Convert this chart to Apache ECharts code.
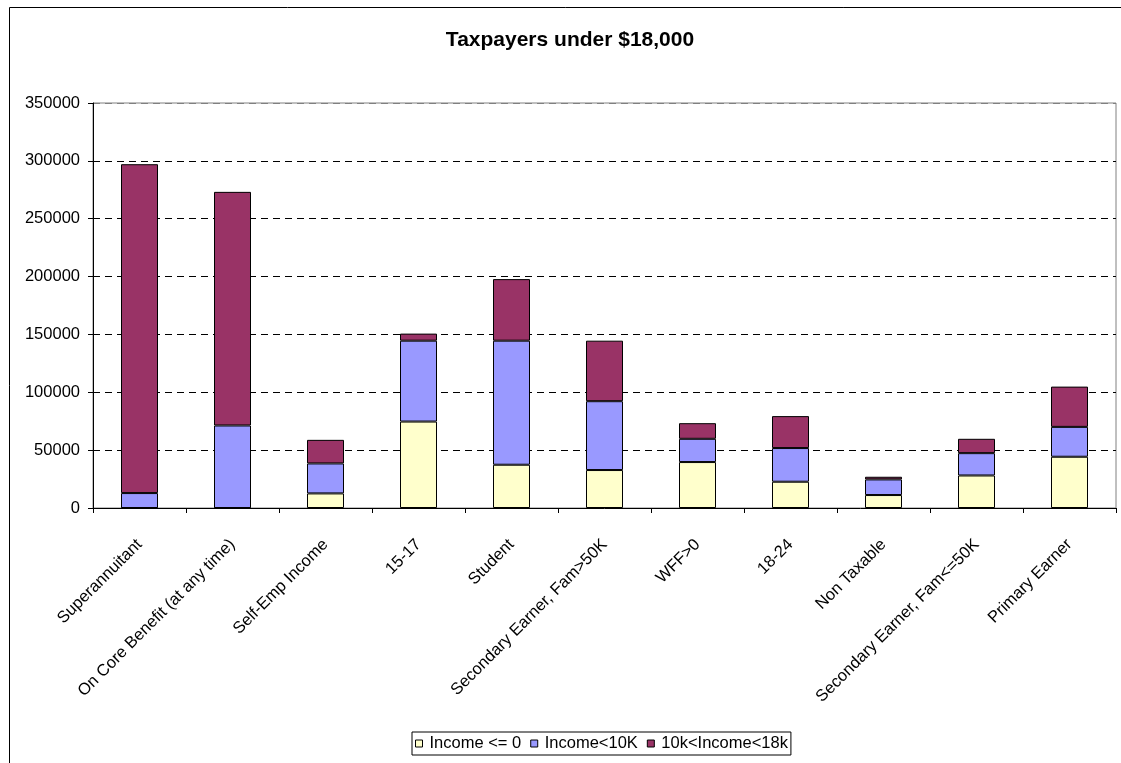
<!DOCTYPE html>
<html>
<head>
<meta charset="utf-8">
<title>Taxpayers under $18,000</title>
<script src="https://cdn.jsdelivr.net/npm/echarts@6/dist/echarts.min.js"></script>
<style>
  html, body { margin: 0; padding: 0; background: #fff; }
  #chart { width: 1121px; height: 763px; }
</style>
</head>
<body>
<div id="chart"></div>
<script>
// Taxpayer groups along the category axis
const categories = [
  'Superannuitant',
  'On Core Benefit (at any time)',
  'Self-Emp Income',
  '15-17',
  'Student',
  'Secondary Earner, Fam>50K',
  'WFF>0',
  '18-24',
  'Non Taxable',
  'Secondary Earner, Fam<=50K',
  'Primary Earner'
];

// Number of taxpayers in each income band (stacked)
const incomeNil      = [0, 0, 12600, 74700, 37400, 32800, 39700, 22700, 11200, 28100, 44300];
const incomeUnder10k = [12900, 71300, 25900, 69900, 107200, 59500, 20100, 29100, 13500, 19300, 25800];
const income10to18k  = [284200, 201900, 20400, 6100, 53200, 52300, 13500, 27600, 2300, 12400, 34800];

const seriesNames = ['Income <= 0', 'Income<10K', '10k<Income<18k'];
const seriesColors = ['#FFFFCC', '#9999FF', '#993366'];

// Value axis range
const yMin = 0;
const yMax = 350000;
const yStep = 50000;

const FONT = '"Liberation Sans", Arial, sans-serif';
const LABEL_SIZE = 16.5;

const chart = echarts.init(document.getElementById('chart'), null, { renderer: 'canvas' });

const seriesData = [incomeNil, incomeUnder10k, income10to18k];

chart.setOption({
  animation: false,
  backgroundColor: '#ffffff',
  textStyle: { fontFamily: FONT, color: '#000' },
  title: {
    text: 'Taxpayers under $18,000',
    left: 570,
    top: 30,
    padding: 0,
    textAlign: 'center',
    textStyle: { fontFamily: FONT, fontSize: 21, fontWeight: 'bold', color: '#000' }
  },
  graphic: [{
    type: 'rect',
    silent: true,
    shape: { x: 9.5, y: 7.5, width: 1200, height: 800 },
    style: { fill: 'none', stroke: '#000', lineWidth: 1 }
  }],
  legend: {
    left: 412,
    top: 732,
    orient: 'horizontal',
    padding: [3, 3, 3, 3],
    itemGap: 9,
    itemWidth: 7,
    itemHeight: 7,
    icon: 'rect',
    borderColor: '#000',
    borderWidth: 1,
    borderRadius: 0,
    itemStyle: { borderColor: '#000', borderWidth: 1 },
    textStyle: { fontFamily: FONT, fontSize: LABEL_SIZE, color: '#000', padding: [0, 0, 0, 2] },
    data: seriesNames
  },
  grid: {
    left: 93,
    top: 103,
    width: 1023,
    height: 405,
    show: true,
    borderColor: '#808080',
    borderWidth: 1,
    backgroundColor: 'transparent'
  },
  xAxis: {
    type: 'category',
    data: categories,
    boundaryGap: true,
    axisLine: { show: true, lineStyle: { color: '#000', width: 1 } },
    axisTick: { show: true, length: 5, alignWithLabel: false, lineStyle: { color: '#000' } },
    axisLabel: {
      interval: 0,
      rotate: 45,
      margin: 34,
      fontFamily: FONT,
      fontSize: LABEL_SIZE,
      color: '#000'
    },
    splitLine: { show: false }
  },
  yAxis: {
    type: 'value',
    min: yMin,
    max: yMax,
    interval: yStep,
    axisLine: { show: true, lineStyle: { color: '#000', width: 1 } },
    axisTick: { show: true, length: 5, lineStyle: { color: '#000' } },
    axisLabel: {
      margin: 13,
      fontFamily: FONT,
      fontSize: LABEL_SIZE,
      color: '#000',
      formatter: (v) => String(v)
    },
    splitLine: {
      show: true,
      lineStyle: {
        color: ['#000', '#000', '#000', '#000', '#000', '#000', '#000', '#808080'],
        width: 1,
        type: [7, 5]
      }
    }
  },
  series: seriesNames.map((name, i) => ({
    name: name,
    type: 'bar',
    stack: 'total',
    barWidth: 37,
    data: seriesData[i],
    itemStyle: { color: seriesColors[i], borderColor: '#000', borderWidth: 1 },
    emphasis: { disabled: true }
  }))
});
</script>
</body>
</html>
